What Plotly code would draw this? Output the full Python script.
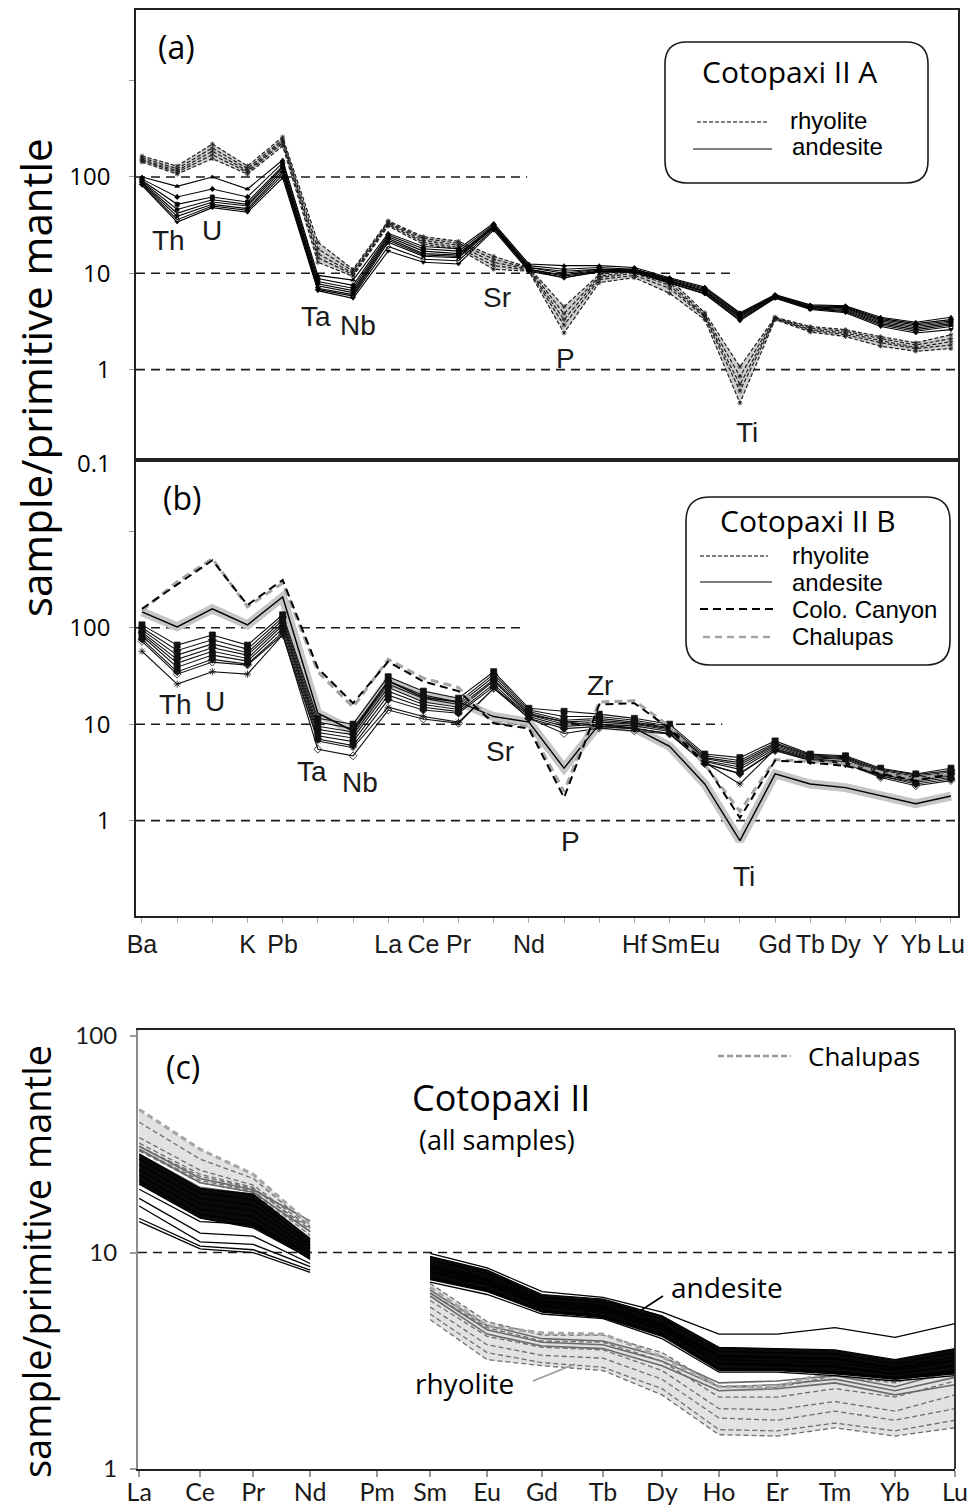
import plotly.graph_objects as go

W, H = 978, 1508

# ---------------- DATA: panels (a) and (b) ----------------
ELEMENTS_AB = ["Ba", "Th", "U", "K", "Pb", "Ta", "Nb", "La", "Ce", "Pr", "Sr", "Nd",
               "P", "Zr", "Hf", "Sm", "Eu", "Ti", "Gd", "Tb", "Dy", "Y", "Yb", "Lu"]
AB_TICK_TEXT = ["Ba", "", "", "K", "Pb", "", "", "La", "Ce", "Pr", "", "Nd",
                "", "", "Hf", "Sm", "Eu", "", "Gd", "Tb", "Dy", "Y", "Yb", "Lu"]

#            Ba   Th   U    K    Pb   Ta   Nb   La  Ce  Pr   Sr  Nd   P    Zr   Hf  Sm   Eu   Ti    Gd   Tb   Dy   Y    Yb   Lu
A_RHYOLITE = [
    [165, 130, 220, 130, 260, 21, 11.0, 35, 24, 21.5, 15, 11.5, 4.5, 9.7, 11.0, 8.7, 3.9, 1.07, 3.5, 2.8, 2.6, 2.2, 1.9, 2.3],
    [158, 122, 200, 122, 245, 18, 10.5, 34, 23, 20.5, 14, 11.2, 3.8, 9.3, 10.5, 8.0, 3.7, 0.85, 3.45, 2.7, 2.5, 2.1, 1.8, 2.1],
    [152, 116, 185, 116, 235, 16, 10.0, 33, 22, 19.5, 13, 11.0, 3.3, 9.0, 10.0, 7.5, 3.6, 0.70, 3.4, 2.6, 2.4, 2.0, 1.7, 1.95],
    [148, 112, 170, 112, 225, 14.5, 9.7, 32, 21, 18.5, 12, 10.8, 2.9, 8.6, 9.5, 7.0, 3.5, 0.60, 3.35, 2.55, 2.3, 1.9, 1.65, 1.8],
    [143, 107, 155, 107, 210, 13, 9.3, 31, 20, 17.8, 11, 10.5, 2.4, 8.0, 9.0, 6.2, 3.3, 0.45, 3.3, 2.45, 2.2, 1.75, 1.55, 1.65],
]
A_ANDESITE = [
    [100, 80, 100, 75, 150, 9.5, 8.5, 26, 19, 18, 33, 12.5, 12.0, 12.0, 11.5, 9.0, 7.2, 3.9, 6.0, 4.7, 4.6, 3.5, 3.1, 3.5],
    [95, 62, 75, 62, 140, 8.8, 7.5, 25, 18, 17, 32, 12.0, 11.0, 11.5, 11.0, 8.8, 7.0, 3.8, 5.9, 4.6, 4.5, 3.4, 3.0, 3.3],
    [92, 52, 62, 55, 130, 8.2, 7.0, 24, 17, 16, 31, 11.5, 10.5, 11.0, 11.0, 8.6, 6.8, 3.7, 5.8, 4.5, 4.4, 3.3, 2.9, 3.2],
    [90, 46, 58, 52, 125, 7.8, 6.6, 23, 16, 15.5, 31, 11.5, 10.0, 11.0, 10.8, 8.5, 6.6, 3.6, 5.8, 4.5, 4.3, 3.2, 2.8, 3.1],
    [88, 42, 55, 50, 118, 7.4, 6.3, 22, 15.5, 15, 30, 11.0, 9.6, 10.8, 10.6, 8.3, 6.5, 3.5, 5.7, 4.4, 4.2, 3.1, 2.7, 3.0],
    [86, 39, 52, 47, 112, 7.0, 6.0, 21, 15, 14.5, 30, 11.0, 9.3, 10.6, 10.5, 8.2, 6.4, 3.4, 5.6, 4.3, 4.1, 3.0, 2.6, 2.9],
    [84, 36, 50, 45, 105, 6.8, 5.8, 19, 14, 13.5, 29, 10.8, 9.0, 10.5, 10.3, 8.0, 6.2, 3.3, 5.6, 4.3, 4.0, 2.9, 2.5, 2.8],
    [82, 34, 48, 43, 98, 6.6, 5.5, 17, 13, 12.5, 28, 10.5, 9.0, 10.3, 10.2, 7.9, 6.1, 3.2, 5.5, 4.2, 3.9, 2.8, 2.4, 2.6],
]

B_ANDESITE = [
    [107, 66, 84, 66, 136, 11.5, 10.0, 31, 22, 18.6, 35, 14.6, 13.6, 12.7, 11.5, 10.0, 4.9, 4.5, 6.7, 4.9, 4.7, 3.5, 3.05, 3.5],
    [100, 58, 75, 60, 128, 10.5, 9.0, 28, 20, 17, 33, 14.0, 12.0, 12.0, 11.0, 9.5, 4.7, 4.2, 6.4, 4.8, 4.6, 3.4, 3.0, 3.3],
    [95, 52, 68, 55, 120, 9.5, 8.3, 26, 18.5, 16, 31, 13.5, 11.0, 11.5, 10.5, 9.2, 4.5, 4.0, 6.2, 4.7, 4.5, 3.3, 2.9, 3.2],
    [90, 47, 62, 52, 112, 8.8, 7.8, 24, 17, 15, 29, 13.0, 10.5, 11.0, 10.2, 9.0, 4.4, 3.8, 6.0, 4.6, 4.4, 3.2, 2.8, 3.1],
    [86, 43, 57, 48, 106, 8.2, 7.2, 22, 16, 14.2, 28, 12.5, 10.0, 10.5, 10.0, 8.7, 4.2, 3.6, 5.8, 4.5, 4.3, 3.1, 2.7, 3.0],
    [82, 39, 52, 45, 98, 7.6, 6.6, 20, 15, 13.5, 26, 12.0, 9.5, 10.0, 9.6, 8.4, 4.1, 3.4, 5.6, 4.4, 4.1, 3.0, 2.6, 2.9],
    [76, 35, 47, 42, 90, 7.0, 6.0, 18, 14, 13, 24.5, 11.5, 9.0, 9.5, 9.0, 8.0, 3.9, 3.1, 5.4, 4.2, 3.9, 2.9, 2.4, 2.7],
    [72, 33, 44, 41, 85, 5.5, 4.7, 14, 11.3, 10.2, 23.5, 11.5, 8.0, 9.1, 8.5, 7.9, 3.9, 3.05, 5.3, 4.2, 3.9, 2.8, 2.3, 2.6],
    [57, 26, 35, 33, 84, 6.7, 5.7, 15, 12, 10.5, 23.5, 12.5, 10.7, 9.5, 9.0, 8.0, 4.0, 2.4, 5.5, 4.3, 4.0, 2.9, 2.5, 2.8],
]
B_RHYOLITE = [146, 102, 157, 107, 208, 13, 8.5, 28, 19, 17, 12, 10.5, 3.5, 10, 9.1, 5.9, 2.4, 0.62, 3.05, 2.4, 2.2, 1.8, 1.5, 1.8]
B_COLO_CANYON = [157, 283, 500, 172, 312, 38, 16.5, 44.5, 27.7, 22, 10.2, 9.0, 1.73, 16, 16.5, 9.0, 3.9, 1.07, 4.2, 4.0, 3.7, 3.05, 2.6, 3.05]
B_CHALUPAS = [150, 300, 520, 165, 290, 35, 15, 47, 30, 24, 10.5, 9.5, 2.0, 17, 17.5, 9.5, 3.8, 1.25, 4.3, 4.1, 3.9, 3.2, 2.7, 3.1]

# ---------------- DATA: panel (c) ----------------
REE = ["La", "Ce", "Pr", "Nd", "Pm", "Sm", "Eu", "Gd", "Tb", "Dy", "Ho", "Er", "Tm", "Yb", "Lu"]
#                  La    Ce    Pr    Nd   Pm    Sm   Eu   Gd   Tb   Dy   Ho    Er    Tm    Yb    Lu
C_ANDESITE_CORE = [
    [28.5, 19.8, 18.6, 11.6, None, 9.6, 8.3, 6.4, 6.1, 5.1, 3.65, 3.6, 3.55, 3.2, 3.6],
    [27.0, 18.8, 17.6, 11.2, None, 9.2, 8.0, 6.2, 5.9, 4.9, 3.5, 3.45, 3.4, 3.05, 3.45],
    [25.5, 17.8, 16.6, 10.8, None, 8.8, 7.7, 6.0, 5.7, 4.7, 3.35, 3.3, 3.25, 2.95, 3.3],
    [24.0, 16.8, 15.6, 10.4, None, 8.4, 7.4, 5.8, 5.5, 4.6, 3.2, 3.15, 3.1, 2.85, 3.15],
    [22.8, 15.8, 14.6, 10.0, None, 8.0, 7.1, 5.6, 5.3, 4.4, 3.05, 3.0, 2.95, 2.75, 3.0],
    [21.5, 15.0, 13.8, 9.7, None, 7.7, 6.8, 5.4, 5.1, 4.2, 2.92, 2.9, 2.82, 2.65, 2.85],
    [20.7, 14.4, 13.0, 9.4, None, 7.5, 6.6, 5.3, 5.0, 4.1, 2.85, 2.85, 2.75, 2.6, 2.75],
]
C_ANDESITE_OTHER = [
    [19.6, 13.9, 13.5, 9.3, None, 9.9, 8.5, 6.6, 6.2, 5.3, 4.2, 4.2, 4.5, 4.06, 4.7],
    [17.8, 12.3, 11.9, 8.9, None, 7.3, 6.4, 5.2, 4.95, 4.0, 2.8, 2.8, 2.7, 2.55, 2.7],
    [16.4, 11.2, 10.9, 8.6, None, 7.6, 6.7, 5.4, 5.1, 4.2, 2.9, 2.9, 2.8, 2.6, 2.8],
    [14.4, 10.7, 10.3, 8.3, None, 8.2, 7.2, 5.7, 5.4, 4.5, 3.1, 3.05, 3.0, 2.75, 3.0],
    [13.9, 10.4, 10.0, 8.1, None, 8.6, 7.5, 5.9, 5.6, 4.6, 3.3, 3.25, 3.2, 2.9, 3.2],
]
C_GRAY = [
    [31.0, 22.0, 19.5, 14.0, None, 6.7, 4.6, 4.0, 3.9, 3.3, 2.5, 2.55, 2.7, 2.4, 2.85],
    [30.0, 21.0, 19.0, 12.5, None, 6.5, 4.4, 3.85, 3.75, 3.15, 2.4, 2.45, 2.6, 2.3, 2.65],
    [28.5, 20.0, 18.6, 10.5, None, 6.3, 4.2, 3.7, 3.6, 3.0, 2.3, 2.35, 2.5, 2.2, 2.45],
]
C_RHYOLITE = [
    [40.0, 27.0, 22.0, 13.2, None, 7.2, 4.8, 4.15, 4.15, 3.45, 2.4, 2.38, 2.7, 2.5, 3.0],
    [34.0, 24.0, 20.5, 13.0, None, 6.5, 4.5, 3.9, 3.85, 3.15, 2.15, 2.15, 2.35, 2.15, 2.55],
    [32.0, 23.0, 20.0, 12.5, None, 6.0, 4.1, 3.65, 3.55, 2.85, 1.9, 1.88, 2.05, 1.85, 2.2],
    [31.0, 22.5, 19.8, 12.8, None, 5.6, 3.75, 3.35, 3.25, 2.6, 1.72, 1.68, 1.85, 1.68, 1.9],
    [30.0, 21.5, 19.3, 12.0, None, 5.2, 3.45, 3.1, 2.95, 2.35, 1.52, 1.5, 1.63, 1.5, 1.68],
    [29.5, 21.0, 19.0, 11.5, None, 4.9, 3.2, 3.0, 2.85, 2.2, 1.44, 1.42, 1.55, 1.42, 1.55],
]
C_CHALUPAS = [45.8, 30.0, 23.0, 13.5, None, 6.9, 4.6, 4.25, 4.2, 3.3, 2.4, 2.4, 2.85, 2.6, 3.05]

# ---------------- layout helpers ----------------
X_AB = list(range(len(ELEMENTS_AB)))
REE_XPOS = [0, 1.046, 1.956, 2.934, 4.083, 4.992, 5.970, 6.914, 7.960, 8.972,
            9.950, 10.945, 11.940, 12.970, 14.0]
LREE_IDX = [0, 1, 2, 3]
HREE_IDX = list(range(5, 15))

MYR = "Open Sans, Noto Sans, sans-serif"
ARI = "Liberation Sans, Arial, sans-serif"
CAL = "Lato, Open Sans, sans-serif"

fig = go.Figure()


def xp(px):
    return px / W


def yp(py):
    return 1 - py / H


def add_line(x, y, xa, ya, color="black", width=1.0, dash="solid", marker=None, msize=4, mcolor=None):
    fig.add_trace(go.Scatter(
        x=x, y=y, xaxis=xa, yaxis=ya,
        mode="lines+markers" if marker else "lines",
        line=dict(color=color, width=width, dash=dash),
        marker=dict(symbol=marker, size=msize, color=mcolor or color,
                    line=dict(color=mcolor or color, width=0.8)) if marker else None,
        connectgaps=False, showlegend=False, hoverinfo="skip"))


def add_band(x, series, xa, ya, color, idx=None):
    if idx is None:
        idx = list(range(len(x)))
    xs = [x[i] for i in idx]
    upper = [max(s[i] for s in series) for i in idx]
    lower = [min(s[i] for s in series) for i in idx]
    fig.add_trace(go.Scatter(
        x=xs + xs[::-1], y=upper + lower[::-1], xaxis=xa, yaxis=ya,
        mode="lines", fill="toself", fillcolor=color, line=dict(width=0, color=color),
        showlegend=False, hoverinfo="skip"))


def ref_line(value, x0, x1, xa, ya):
    add_line([x0, x1], [value, value], xa, ya, color="#1a1a1a", width=1.6, dash="9px,6px")


# ---------------- panel (a) ----------------
ref_line(100, -0.17, 10.95, "x", "y")
ref_line(10, -0.17, 16.8, "x", "y")
ref_line(1, -0.17, 23.2, "x", "y")
add_band(X_AB, A_RHYOLITE, "x", "y", "#cdcdcd")
for s in A_RHYOLITE:
    add_line(X_AB, s, "x", "y", color="#202020", width=1.2, dash="4px,2px", marker="asterisk-open", msize=4)
a_syms = ["triangle-up", "diamond", "square", "circle", "x-thin-open", "star", "diamond-open", "triangle-down"]
for i, s in enumerate(A_ANDESITE):
    add_line(X_AB, s, "x", "y", color="black", width=1.1, marker=a_syms[i % len(a_syms)], msize=4)

# ---------------- panel (b) ----------------
ref_line(100, -0.17, 10.75, "x2", "y2")
ref_line(10, -0.17, 16.5, "x2", "y2")
ref_line(1, -0.17, 23.2, "x2", "y2")
add_line(X_AB, B_RHYOLITE, "x2", "y2", color="#c6c6c6", width=9)
add_line(X_AB, B_RHYOLITE, "x2", "y2", color="black", width=1.4)
b_syms = ["square", "diamond", "square", "diamond", "circle", "square", "diamond", "diamond-open", "asterisk-open"]
for i, s in enumerate(B_ANDESITE):
    add_line(X_AB, s, "x2", "y2", color="#111111", width=1.1, marker=b_syms[i % len(b_syms)], msize=6)
add_line(X_AB, B_CHALUPAS, "x2", "y2", color="#a5a5a5", width=3, dash="8px,5px")
add_line(X_AB, B_COLO_CANYON, "x2", "y2", color="black", width=2, dash="8px,5px")

# ---------------- panel (c) ----------------
ref_line(10, -0.02, 14.0, "x3", "y3")
for idx in (LREE_IDX, HREE_IDX):
    add_band(REE_XPOS, C_RHYOLITE + [C_CHALUPAS], "x3", "y3", "#e2e2e2", idx)
for s in C_RHYOLITE:
    add_line(REE_XPOS, s, "x3", "y3", color="#6e6e6e", width=1.3, dash="5px,3px")
for s in C_GRAY:
    add_line(REE_XPOS, s, "x3", "y3", color="#6a6a6a", width=1.6)
add_line(REE_XPOS, C_CHALUPAS, "x3", "y3", color="#a6a6a6", width=3.2, dash="6px,4px")
for idx in (LREE_IDX, HREE_IDX):
    add_band(REE_XPOS, C_ANDESITE_CORE, "x3", "y3", "#0a0a0a", idx)
for s in C_ANDESITE_CORE:
    add_line(REE_XPOS, s, "x3", "y3", color="black", width=1.2)
for s in C_ANDESITE_OTHER:
    add_line(REE_XPOS, s, "x3", "y3", color="black", width=1.3)

# ---------------- axes ----------------
axis_common = dict(showgrid=False, zeroline=False, showline=True, mirror=True,
                   linecolor="#222222", linewidth=1.6, automargin=False)
fig.update_layout(
    xaxis=dict(domain=[xp(136), xp(958)], anchor="y", range=[-0.17, 23.2],
               showticklabels=False, ticks="", **axis_common),
    yaxis=dict(domain=[yp(460), yp(10)], anchor="x", type="log", range=[-0.939, 3.734],
               tickvals=[1, 10, 100, 1000], ticktext=["1", "10", "100", ""],
               ticks="outside", ticklen=5, tickcolor="#999999", ticklabelstandoff=14,
               tickfont=dict(family=MYR, size=24, color="black"), **axis_common),
    xaxis2=dict(domain=[xp(136), xp(958)], anchor="y2", range=[-0.17, 23.2],
                tickvals=X_AB, ticktext=AB_TICK_TEXT, ticks="outside", ticklen=5, tickangle=0,
                tickcolor="#aaaaaa", tickfont=dict(family=ARI, size=25, color="#1a1a1a"),
                **axis_common),
    yaxis2=dict(domain=[yp(916), yp(460)], anchor="x2", type="log", range=[-0.988, 3.738],
                tickvals=[0.1, 1, 10, 100, 1000], ticktext=["0.1", "1", "10", "100", ""],
                ticks="outside", ticklen=5, tickcolor="#999999", ticklabelstandoff=14,
                tickfont=dict(family=MYR, size=24, color="black"), **axis_common),
    xaxis3=dict(domain=[xp(138), xp(955)], anchor="y3", range=[-0.02, 14.0],
                tickvals=REE_XPOS, ticktext=REE, ticks="outside", ticklen=6, tickangle=0,
                tickcolor="#999999", tickwidth=1.5, ticklabelstandoff=-6,
                tickfont=dict(family=CAL, size=25, color="#1a1a1a"),
                showgrid=False, zeroline=False, showline=True, mirror=True,
                linecolor="#222222", linewidth=1.8, automargin=False),
    yaxis3=dict(domain=[yp(1469), yp(1030)], anchor="x3", type="log", range=[0, 2.028],
                tickvals=[1, 10, 100], ticktext=["1", "10", "100"],
                ticks="outside", ticklen=6, tickcolor="#999999", tickwidth=1.5,
                ticklabelstandoff=8, tickfont=dict(family=CAL, size=24, color="#1a1a1a"),
                showgrid=False, zeroline=False, showline=True, mirror=False,
                linecolor="#8c8c8c", linewidth=2.2, automargin=False),
)

shapes = []
# right border of panel (c)
shapes.append(dict(type="line", xref="paper", yref="paper", x0=xp(955), x1=xp(955),
                   y0=yp(1030), y1=yp(1469), line=dict(color="#222222", width=1.8)))


def rounded_box(x0, y0, x1, y1, r):
    p = (f"M {xp(x0 + r)} {yp(y0)} L {xp(x1 - r)} {yp(y0)} Q {xp(x1)} {yp(y0)} {xp(x1)} {yp(y0 + r)} "
         f"L {xp(x1)} {yp(y1 - r)} Q {xp(x1)} {yp(y1)} {xp(x1 - r)} {yp(y1)} "
         f"L {xp(x0 + r)} {yp(y1)} Q {xp(x0)} {yp(y1)} {xp(x0)} {yp(y1 - r)} "
         f"L {xp(x0)} {yp(y0 + r)} Q {xp(x0)} {yp(y0)} {xp(x0 + r)} {yp(y0)} Z")
    return dict(type="path", xref="paper", yref="paper", path=p,
                line=dict(color="#1a1a1a", width=1.6), fillcolor="white")


def legend_line(x0, x1, y, color="black", width=1.2, dash="solid"):
    return dict(type="line", xref="paper", yref="paper", x0=xp(x0), x1=xp(x1),
                y0=yp(y), y1=yp(y), line=dict(color=color, width=width, dash=dash))


shapes.append(rounded_box(665, 42, 928, 183, 22))
shapes.append(legend_line(697, 768, 122, dash="4px,2px"))
shapes.append(legend_line(693, 772, 149))
shapes.append(rounded_box(686, 497, 950, 665, 24))
shapes.append(legend_line(700, 768, 556, dash="4px,2px"))
shapes.append(legend_line(700, 772, 582))
shapes.append(legend_line(700, 775, 609, width=2, dash="8px,5px"))
shapes.append(legend_line(703, 775, 637, color="#a5a5a5", width=2.5, dash="7px,5px"))
shapes.append(legend_line(718, 791, 1056, color="#999999", width=2.5, dash="6px,3px"))
# pointer lines in (c)
shapes.append(dict(type="line", xref="paper", yref="paper", x0=xp(640), y0=yp(1311),
                   x1=xp(663), y1=yp(1296), line=dict(color="black", width=1.6)))
shapes.append(dict(type="line", xref="paper", yref="paper", x0=xp(533), y0=yp(1381),
                   x1=xp(575), y1=yp(1364), line=dict(color="#9a9a9a", width=1.6)))
fig.update_layout(shapes=shapes)

ann = []


def txt(t, px, py, size, family=MYR, xanchor="center", color="black", angle=0):
    ann.append(dict(text=t, x=xp(px), y=yp(py), xref="paper", yref="paper",
                    xanchor=xanchor, yanchor="middle", showarrow=False, textangle=angle,
                    font=dict(family=family, size=size, color=color)))


# panel titles / legends
txt("(a)", 176, 47, 32)
txt("Cotopaxi II A", 789, 72, 30)
txt("rhyolite", 788, 120, 24, family=ARI, xanchor="left")
txt("andesite", 790, 147, 24, family=ARI, xanchor="left")
txt("(b)", 182, 497, 32)
txt("Cotopaxi II B", 808, 520, 30)
txt("rhyolite", 790, 555, 24, family=ARI, xanchor="left")
txt("andesite", 790, 582, 24, family=ARI, xanchor="left")
txt("Colo. Canyon", 790, 609, 24, family=ARI, xanchor="left")
txt("Chalupas", 790, 636, 24, family=ARI, xanchor="left")
txt("(c)", 183, 1066, 32)
txt("Cotopaxi II", 501, 1097, 36)
txt("(all samples)", 497, 1139, 27)
txt("Chalupas", 806, 1056, 26, xanchor="left")
txt("andesite", 727, 1287, 28)
txt("rhyolite", 464, 1383, 28)
# y-axis titles
txt("sample/primitive mantle", 36, 378, 42, angle=-90)
txt("sample/primitive mantle", 36, 1262, 38, angle=-90)
# 0.1 label of panel (a) at the panel boundary
txt("0.1", 113, 463, 24, xanchor="right")

# inline element labels
INLINE_A = {"Th": (168, 240), "U": (212, 231), "Ta": (316, 316), "Nb": (358, 326),
            "Sr": (497, 298), "P": (565, 358), "Ti": (747, 432)}
INLINE_B = {"Th": (175, 704), "U": (215, 701), "Ta": (312, 771), "Nb": (360, 782),
            "Sr": (500, 751), "Zr": (600, 685), "P": (570, 842), "Ti": (744, 876)}
for lab, (px_, py_) in list(INLINE_A.items()) + list(INLINE_B.items()):
    txt(lab, px_, py_, 28, family=ARI, color="#1a1a1a")

fig.update_layout(
    annotations=ann,
    width=W, height=H,
    margin=dict(l=0, r=0, t=0, b=0, autoexpand=False),
    paper_bgcolor="white", plot_bgcolor="white",
    showlegend=False,
)

fig.write_html(
    "out.html",
    config={"displayModeBar": False, "responsive": False},
    post_script="document.body.style.margin='0px';document.body.style.padding='0px';"
                "document.documentElement.style.overflow='hidden';",
)
